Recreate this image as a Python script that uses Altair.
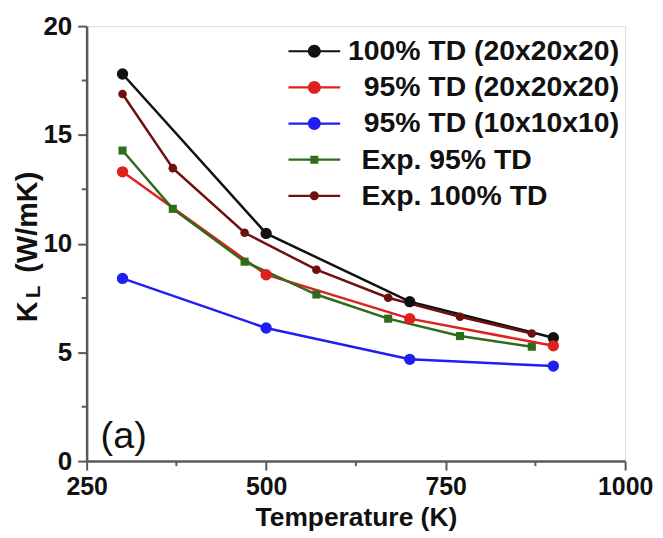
import altair as alt
import pandas as pd

# ---- data ----
series_names = [
    "100% TD (20x20x20)",
    "\u200b\u00a0\u00a095% TD (20x20x20)",
    "\u200b\u00a0\u00a095% TD (10x10x10)",
    "\u200b\u00a0\u2009Exp. 95% TD",
    "\u200b\u00a0\u2009Exp. 100% TD",
]
series_colors = ["#111111", "#e0201e", "#1f1ff2", "#2e6b1a", "#6e1010"]

temp_sim = [300, 500, 700, 900]
kl_100_20 = [17.8, 10.47, 7.33, 5.67]
kl_95_20 = [13.3, 8.57, 6.55, 5.3]
kl_95_10 = [8.4, 6.12, 4.68, 4.37]

temp_exp = [300, 370, 470, 570, 670, 770, 870]
kl_exp_95 = [14.28, 11.6, 9.17, 7.66, 6.55, 5.75, 5.26]
kl_exp_100 = [16.88, 13.47, 10.5, 8.8, 7.51, 6.64, 5.87]

x_major = [250, 500, 750, 1000]
x_minor = [375, 625, 875]
y_major = [0, 5, 10, 15, 20]
y_minor = [2.5, 7.5, 12.5, 17.5]

# ---- tables ----
rows = []
for t, v in zip(temp_sim, kl_100_20):
    rows.append({"T": t, "K": v, "series": series_names[0]})
for t, v in zip(temp_sim, kl_95_20):
    rows.append({"T": t, "K": v, "series": series_names[1]})
for t, v in zip(temp_sim, kl_95_10):
    rows.append({"T": t, "K": v, "series": series_names[2]})
for t, v in zip(temp_exp, kl_exp_95):
    rows.append({"T": t, "K": v, "series": series_names[3]})
for t, v in zip(temp_exp, kl_exp_100):
    rows.append({"T": t, "K": v, "series": series_names[4]})
df = pd.DataFrame(rows)

W, H = 541, 437
FONT = "Liberation Sans"
AXIS_GRAY = "#5a5a5a"

xscale = alt.Scale(domain=[250, 1000], nice=False)
yscale = alt.Scale(domain=[0, 20], nice=False)


def cscale():
    return alt.Scale(domain=series_names, range=series_colors)


# custom legend symbols: line segment + marker (unit = sqrt(size)/2 = 6.5px)
seg = "M-4,-0.17 H-0.8 V0.17 H-4 Z M0.8,-0.17 H4 V0.17 H0.8 Z "
seg_s = "M-4,-0.17 H-0.6 V0.17 H-4 Z M0.6,-0.17 H4 V0.17 H0.6 Z "
big_circle = "M1,0 A1,1 0 1,1 -1,0 A1,1 0 1,1 1,0 Z"
small_circle = "M0.7,0 A0.7,0.7 0 1,1 -0.7,0 A0.7,0.7 0 1,1 0.7,0 Z"
small_square = "M-0.62,-0.62 H0.62 V0.62 H-0.62 Z"
legend_shapes = [seg + big_circle, seg + big_circle, seg + big_circle,
                 seg_s + small_square, seg_s + small_circle]

base = alt.Chart(df)

x_enc = alt.X(
    "T:Q", scale=xscale,
    axis=alt.Axis(values=x_major, format="d", title="Temperature (K)", titleY=65,
                  titleBaseline="alphabetic", titleFontSize=26.5, titleFontWeight="bold",
                  titleFont=FONT, titleColor="#111111",
                  labelFontSize=25, labelFontWeight="bold", labelFont=FONT,
                  labelColor="#111111", labelPadding=5, tickSize=9,
                  tickWidth=2, tickColor=AXIS_GRAY, domainColor=AXIS_GRAY,
                  domainWidth=2.5, grid=False, labelFlush=False),
)
y_enc = alt.Y(
    "K:Q", scale=yscale,
    axis=alt.Axis(values=y_major, format="d", title=None,
                  labelFontSize=26, labelFontWeight="bold", labelFont=FONT,
                  labelColor="#111111", labelPadding=6, tickSize=9,
                  tickWidth=2, tickColor=AXIS_GRAY, domainColor=AXIS_GRAY,
                  domainWidth=2.5, grid=False, labelFlush=False),
)

lines = base.mark_line(strokeWidth=2.5).encode(
    x=x_enc, y=y_enc,
    stroke=alt.Stroke("series:N", scale=cscale(), legend=None),
    detail="series:N",
)

sim_pts = base.transform_filter(
    alt.FieldOneOfPredicate(field="series", oneOf=series_names[:3])
).mark_circle(size=130, opacity=1).encode(
    x="T:Q", y="K:Q",
    fill=alt.Fill("series:N", scale=cscale(), legend=None),
)
exp100_pts = base.transform_filter(
    alt.FieldEqualPredicate(field="series", equal=series_names[4])
).mark_circle(size=75, opacity=1).encode(
    x="T:Q", y="K:Q",
    fill=alt.Fill("series:N", scale=cscale(), legend=None),
)
exp95_pts = base.transform_filter(
    alt.FieldEqualPredicate(field="series", equal=series_names[3])
).mark_square(size=66, opacity=1).encode(
    x="T:Q", y="K:Q",
    fill=alt.Fill("series:N", scale=cscale(), legend=None),
)

legend_layer = base.transform_filter("false").mark_point(filled=True, opacity=1).encode(
    x="T:Q", y="K:Q",
    color=alt.Color("series:N", scale=cscale(),
                    legend=alt.Legend(title=None, orient="none",
                                      legendX=214.5, legendY=11,
                                      symbolSize=169, labelOffset=19.5,
                                      symbolOffset=0, padding=0, rowPadding=7.3,
                                      labelFontSize=28.5, labelFontWeight="bold",
                                      labelFont=FONT, labelColor="#111111",
                                      labelLimit=0, symbolStrokeWidth=0)),
    shape=alt.Shape("series:N", scale=alt.Scale(domain=series_names, range=legend_shapes)),
)

# minor ticks
xminor_df = pd.DataFrame({"T": x_minor})
yminor_df = pd.DataFrame({"K": y_minor})
xminor = alt.Chart(xminor_df).mark_rule(color=AXIS_GRAY, strokeWidth=2).encode(
    x=alt.X("T:Q", scale=xscale), y=alt.value(H), y2=alt.value(H + 5))
yminor = alt.Chart(yminor_df).mark_rule(color=AXIS_GRAY, strokeWidth=2).encode(
    y=alt.Y("K:Q", scale=yscale), x=alt.value(0), x2=alt.value(-5))

# y-axis title with subscript
ytitle_k = alt.Chart(pd.DataFrame({"t": ["K"]})).mark_text(
    angle=270, fontSize=29, fontWeight="bold", font=FONT, color="#111111",
    align="center", baseline="middle").encode(
    text="t:N", x=alt.value(-59), y=alt.value(287))
ytitle_l = alt.Chart(pd.DataFrame({"t": ["L"]})).mark_text(
    angle=270, fontSize=21, fontWeight="bold", font=FONT, color="#111111",
    align="center", baseline="middle").encode(
    text="t:N", x=alt.value(-53), y=alt.value(267))
ytitle_u = alt.Chart(pd.DataFrame({"t": ["(W/mK)"]})).mark_text(
    angle=270, fontSize=29, fontWeight="bold", font=FONT, color="#111111",
    align="center", baseline="middle").encode(
    text="t:N", x=alt.value(-59), y=alt.value(197))

panel = alt.Chart(pd.DataFrame({"t": ["(a)"]})).mark_text(
    fontSize=38, font=FONT, color="#111111", align="left",
    baseline="alphabetic").encode(
    text="t:N", x=alt.value(14), y=alt.value(424))

chart = alt.layer(
    lines, exp95_pts, exp100_pts, sim_pts, legend_layer,
    xminor, yminor, ytitle_k, ytitle_l, ytitle_u, panel,
).resolve_scale(
    fill="independent", stroke="independent"
).properties(
    width=W, height=H,
    autosize=alt.AutoSizeParams(type="none"),
    padding={"left": 79, "top": 17, "right": 30, "bottom": 70},
).configure_view(
    stroke=AXIS_GRAY, strokeWidth=2.5,
).configure(background="white")

chart.save("out.html", embed_options={"renderer": "svg", "actions": False})
